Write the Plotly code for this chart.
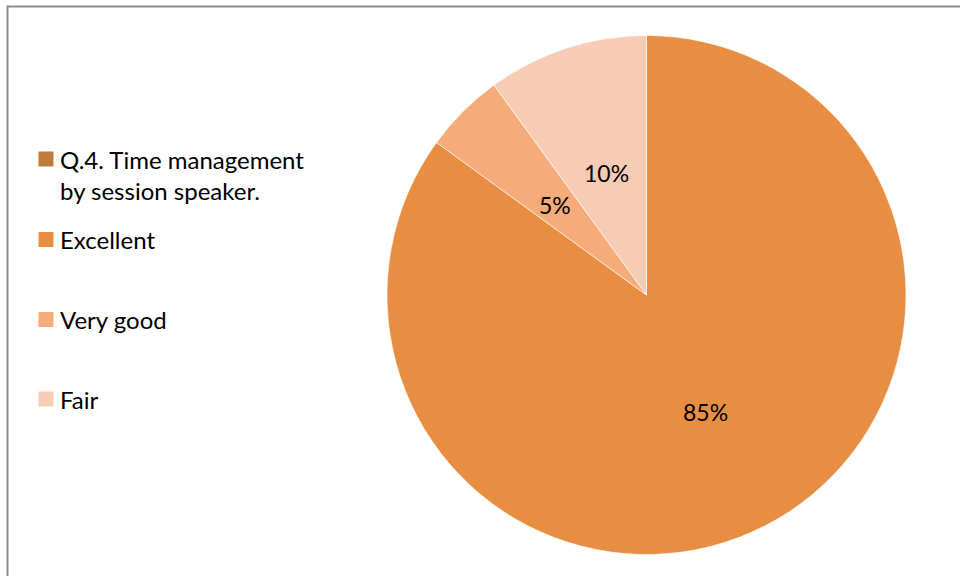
import math
import plotly.graph_objects as go

# Data
series_name = ["Q.4. Time management", "by session speaker."]
categories = ["Excellent", "Very good", "Fair"]
percent_values = [85, 5, 10]

# Colours
series_color = "#C07A3C"
slice_colors = ["#E88E42", "#F5AB7A", "#F8CBB5"]

W, H = 960, 576
FONT = "Lato"
LEGEND_SIZE = 24
LABEL_SIZE = 23

# pie geometry in pixels
cx, cy, R = 646.5, 295, 259.5

fig = go.Figure()

fig.add_trace(go.Pie(
    labels=categories,
    values=percent_values,
    sort=False,
    direction="clockwise",
    rotation=0,
    marker=dict(colors=slice_colors, line=dict(color="white", width=0.6)),
    textinfo="none",
    hoverinfo="label+percent",
    showlegend=False,
    domain=dict(x=[(cx - R) / W, (cx + R) / W], y=[1 - (cy + R) / H, 1 - (cy - R) / H]),
))

# percentage labels at half the radius on each slice's middle angle
total = sum(percent_values)
start = 0
for val in percent_values:
    mid = (start + val / 2) / total * 2 * math.pi
    start += val
    px_ = cx + 0.5 * R * math.sin(mid)
    py_ = cy - 0.5 * R * math.cos(mid) + 1.5
    fig.add_annotation(
        x=px_ / W, y=1 - py_ / H, xref="paper", yref="paper",
        text=f"{round(val / total * 100)}%", showarrow=False,
        font=dict(family=FONT, size=LABEL_SIZE, color="#000000"),
        xanchor="center", yanchor="middle",
    )

# legend drawn by hand to keep Excel's spacing
legend_rows = [159, 239.5, 319.5, 399]
legend_labels = [series_name[0]] + categories
legend_colors = [series_color] + slice_colors
for row_y, label, color in zip(legend_rows, legend_labels, legend_colors):
    fig.add_shape(
        type="rect", xref="paper", yref="paper",
        x0=38.5 / W, x1=53.5 / W, y0=1 - (row_y + 7.5) / H, y1=1 - (row_y - 7.5) / H,
        fillcolor=color, line=dict(width=0),
    )
    fig.add_annotation(
        x=58 / W, y=1 - row_y / H, xref="paper", yref="paper",
        text=label, showarrow=False, xanchor="left", yanchor="middle",
        font=dict(family=FONT, size=LEGEND_SIZE, color="#000000"),
    )
# second line of the series name
fig.add_annotation(
    x=58 / W, y=1 - 190 / H, xref="paper", yref="paper",
    text=series_name[1], showarrow=False, xanchor="left", yanchor="middle",
    font=dict(family=FONT, size=LEGEND_SIZE, color="#000000"),
)

# chart border (right and bottom edges run off the picture)
fig.add_shape(
    type="rect", xref="paper", yref="paper",
    x0=7.5 / W, x1=1.02, y0=-0.02, y1=1 - 6.5 / H,
    line=dict(color="#8C8C8C", width=2), fillcolor="rgba(0,0,0,0)",
)

fig.update_layout(
    width=W, height=H,
    margin=dict(l=0, r=0, t=0, b=0),
    paper_bgcolor="white",
    plot_bgcolor="white",
    font=dict(family=FONT, size=LEGEND_SIZE),
)

# drop the page's default body margin so the figure sits at the window corner
fig.write_html(
    "out.html",
    config={"displayModeBar": False},
    post_script="document.body.style.margin='0';",
)
